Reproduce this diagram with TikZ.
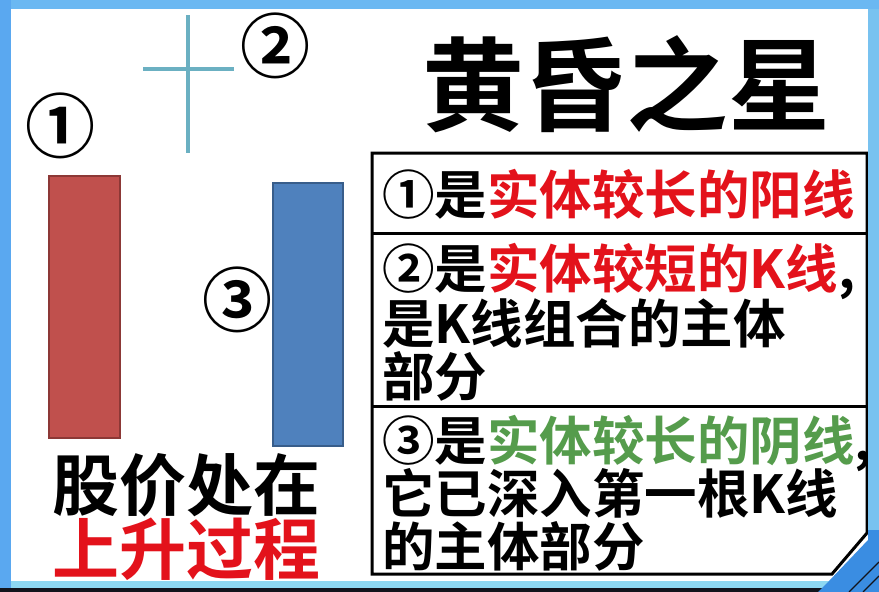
\documentclass[tikz,border=0pt]{standalone}
\usepackage{fontspec}
\newfontfamily\cjk{Noto Sans CJK SC}[BoldFont={* Bold}]
\definecolor{frameleft}{HTML}{5AA8F0}
\definecolor{frametop}{HTML}{6BB8F2}
\definecolor{frameright}{HTML}{78C2F0}
\definecolor{cyanbot}{HTML}{8ED8F2}
\definecolor{darkbot}{HTML}{12141C}
\definecolor{deepbl}{HTML}{3A8DE2}
\definecolor{tred}{HTML}{E3121B}
\definecolor{tgreen}{HTML}{559C4C}
\definecolor{barred}{HTML}{C0504D}
\definecolor{barredl}{HTML}{8C3836}
\definecolor{barblue}{HTML}{4F81BD}
\definecolor{barbluel}{HTML}{385D8A}
\definecolor{cross}{HTML}{6BB0C2}
\begin{document}
\begin{tikzpicture}[x=1pt,y=-1pt,
  tbl/.style={inner sep=0pt, anchor=base west, font=\cjk\bfseries\fontsize{52.5}{54}\selectfont},
  ttl/.style={inner sep=0pt, anchor=base west, font=\cjk\bfseries\fontsize{102}{110}\selectfont},
  lft/.style={inner sep=0pt, anchor=base west, font=\cjk\bfseries\fontsize{67}{70}\selectfont},
  num/.style={inner sep=0pt, font=\cjk\bfseries\fontsize{70}{72}\selectfont},
  bar/.style={line width=1.5pt}]
\useasboundingbox (0,0) rectangle (879,592);
\fill[white] (0,0) rectangle (879,592);
% doji cross
\draw[cross, line width=3.5pt] (188,15) -- (188,153);
\draw[cross, line width=3.5pt] (143,69) -- (234,69);
% bars
\draw[bar, draw=barredl, fill=barred] (49,176) rectangle (120,438);
\draw[bar, draw=barbluel, fill=barblue] (273,183) rectangle (343,446);
% circled numbers
\node[num] (n1) at (60,126) {①};
\node[num] (n2) at (275,46) {②};
\node[num] (n3) at (237,300) {③};
% left texts
\node[lft] (l1) at (52,510) {股价处在};
\node[lft, text=tred] (l2) at (52,574) {上升过程};
% title
\node[ttl] (title) at (422,123) {黄昏之星};
% table
\draw[line width=3pt] (372,153) -- (867,153) -- (867,533) -- (832,574) -- (372,574) -- cycle;
\draw[line width=3pt] (372,233) -- (867,233);
\draw[line width=3pt] (372,406) -- (867,406);
\node[tbl] (r1) at (382,214) {①是\textcolor{tred}{实体较长的阳线}};
\node[tbl] (r2a) at (382,288) {②是\textcolor{tred}{实体较短的K线},};
\node[tbl] (r2b) at (382,343) {是K线组合的主体};
\node[tbl] (r2c) at (382,396) {部分};
\node[tbl] (r3a) at (382,460) {③是\textcolor{tgreen}{实体较长的阴线},};
\node[tbl] (r3b) at (382,513) {它已深入第一根K线};
\node[tbl] (r3c) at (382,566) {的主体部分};
% frame (drawn last, on top)
\fill[frameleft] (0,0) rectangle (11,588);
\fill[frametop] (11,0) rectangle (879,9);
\fill[frameright] (868,9) rectangle (879,540);
\fill[cyanbot] (11,581) rectangle (829,588);
\fill[darkbot] (0,588) rectangle (879,592);
\fill[deepbl] (868,530) -- (879,530) -- (879,592) -- (818,592) -- (826,584) -- (829,581) -- (868,540) -- cycle;
\draw[darkbot, line width=1.2pt] (879,562) -- (849,592);
\draw[darkbot, line width=1.2pt] (879,576) -- (863,592);
\end{tikzpicture}
\end{document}
